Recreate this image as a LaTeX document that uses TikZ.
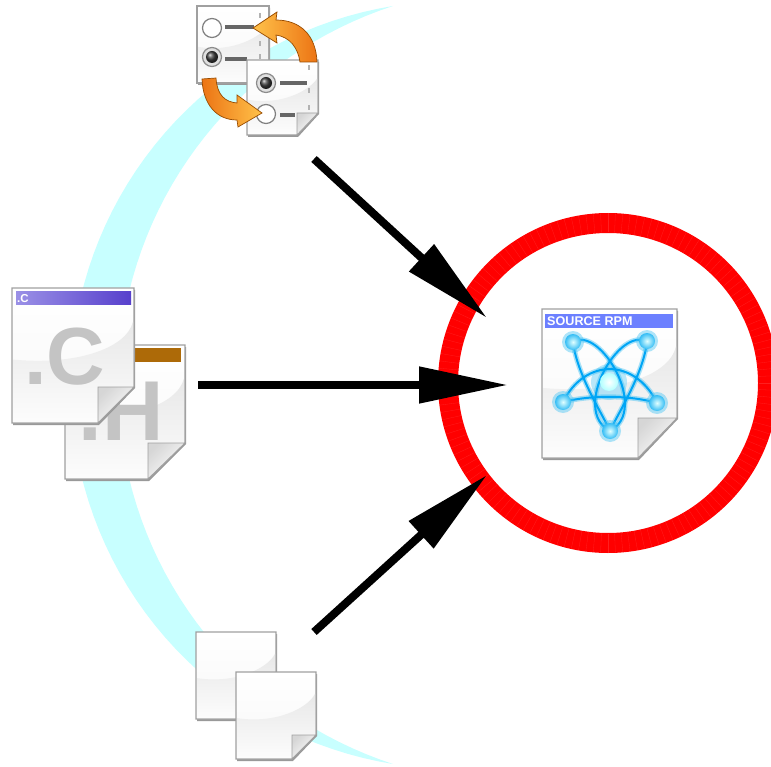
\documentclass[tikz,border=0pt]{standalone}
\usepackage{fontspec}
\setsansfont{Liberation Sans}
\usetikzlibrary{arrows.meta, positioning}
\definecolor{crescent}{HTML}{C8FFFF}
\definecolor{ringred}{HTML}{FF0000}
\definecolor{pageedge}{HTML}{A0A0A0}
\definecolor{cbarL}{HTML}{9A90E6}
\definecolor{cbarR}{HTML}{5740CC}
\definecolor{hbar}{HTML}{AD6A08}
\definecolor{rpmbar}{HTML}{6C80FF}
\definecolor{orbit}{HTML}{00A5F5}
\definecolor{ballrim}{HTML}{35BDF5}
\definecolor{bigletter}{HTML}{C4C4C4}
\definecolor{swapdark}{HTML}{EC7414}
\definecolor{swaplight}{HTML}{FFC24A}
\tikzset{
    pagebody/.style={draw=pageedge,line width=1.3pt,top color=white,bottom color=black!3},
    pagegloss/.style={top color=black!9,bottom color=black!1},
    pageshadow/.style={fill=black!40},
    pagefold/.style={draw=pageedge,line width=.9pt,left color=black!16,right color=white,
        shading angle=45},
    flowarrow/.style={line width=8pt,-{Triangle[length=89pt,width=35pt]}},
    swaparrow/.style={draw=orange!60!black,line width=.7pt},
    radiobar/.style={line width=4pt,draw=black!60},
    bigtext/.style={inner sep=0pt,anchor=base west,text=bigletter,font=\sffamily\bfseries},
    atomball/.style={inner color=cyan!12!white,outer color=ballrim},
    atomglow/.style={draw=cyan!75,line width=5pt,opacity=.45},
    atomline/.style={draw=orbit,line width=2pt},
}
\NewDocumentCommand{\docbody}{mmmmmm}{
    \pgfmathsetmacro{\xfold}{#3-#5}
    \pgfmathsetmacro{\yfold}{#4-#6}
    \pgfmathsetmacro{\yglossl}{#2+0.53*(#4-#2)}
    \pgfmathsetmacro{\yglossr}{#2+0.25*(#4-#2)}
    \pgfmathsetmacro{\xmid}{0.5*(#1+#3)}
    \fill[pageshadow] (#1+1,#2+2) -- (#3+1,#2+2) -- (#3+1,\yfold+1) -- (\xfold+1,#4+2) -- (#1+1,#4+2) -- cycle;
    \shade[pagebody] (#1,#2) -- (#3,#2) -- (#3,\yfold) -- (\xfold,#4) -- (#1,#4) -- cycle;
    \shade[pagegloss] (#1+1,\yglossl) .. controls (\xmid,\yglossl+6) and (#3-8,\yglossl-10) .. (#3-1,\yglossr)
        -- (#3-1,\yfold) -- (\xfold,#4-1) -- (#1+1,#4-1) -- cycle;
}
\NewDocumentCommand{\docfold}{mmmm}{
    \shade[pagefold] (#1-#3,#2) -- (#1-#3,#2-#4) -- (#1,#2-#4) -- cycle;
}
\NewDocumentCommand{\radiooff}{mm}{
    \draw[draw=black!50,fill=white,line width=1.2pt] (#1,#2) circle (9.5);
}
\NewDocumentCommand{\radioon}{mm}{
    \draw[draw=black!45,fill=black!12,line width=1.2pt] (#1,#2) circle (9.5);
    \shade[ball color=black!75] (#1,#2) circle (6);
}
\begin{document}
\begin{tikzpicture}[x=1pt,y=-1pt]
    \useasboundingbox (0,0) rectangle (771,767);
    \clip (0,0) rectangle (771,767);

    \fill[crescent] plot[domain=99.2:260.8,samples=70] ({454.5+384*cos(\x)},{385+384*sin(\x)})
        -- plot[domain=251.9:108.1,samples=70] ({516.7+398.7*cos(\x)},{385+398.7*sin(\x)}) -- cycle;

    % ring
    \draw[ringred,line width=20pt] (608,383) circle (160);
    \foreach \a in {0,2.5,...,357.5}
        \draw[red!88!white,line width=.3pt] (608,383) ++(\a:150.5) -- ++(\a:19);

    % swap icon
    \docbody{197}{6}{269}{83}{0}{0}
    \foreach \yy in {13,41,54}
        \fill[black!30] (259,\yy) rectangle ++(2,5);
    \radiooff{212}{28}
    \radioon{212}{57}
    \draw[radiobar] (225,27) -- (254,27);
    \draw[radiobar] (225,59) -- (247,59);
    \docbody{247}{60}{318}{135}{21}{22}
    \docfold{318}{135}{21}{22}
    \foreach \yy in {65,88,105}
        \fill[black!30] (308,\yy) rectangle ++(2,5);
    \radioon{266}{83}
    \radiooff{266}{114}
    \draw[radiobar] (280,83) -- (307,83);
    \draw[radiobar] (280,115) -- (295,115);
    \shade[swaparrow,left color=swaplight,right color=swapdark]
        (253,28) -- (277,12) -- (276,20) .. controls (300,20) and (316,35) .. (317,62)
        -- (300,62) .. controls (298,48) and (290,37) .. (276,35) -- (277,43) -- cycle;
    \shade[swaparrow,left color=swapdark,right color=swaplight]
        (262,113) -- (237,95) -- (237,103) .. controls (225,102) and (217,95) .. (216,78)
        -- (202,79) .. controls (203,105) and (217,120) .. (237,120) -- (238,127) -- cycle;

    % source files
    \docbody{65}{345}{185}{479}{37}{36}
    \fill[hbar] (69,348) rectangle (181,362);
    \node[bigtext,font=\fontsize{85}{85}\selectfont\sffamily\bfseries] (hletter) at (78.5,440) {.H};
    \docfold{185}{479}{37}{36}
    \docbody{12}{288}{134}{423}{36}{36}
    \shade[left color=cbarL,right color=cbarR] (16,292) rectangle (131,305);
    \node[inner sep=0pt,anchor=base west,text=white,font=\fontsize{11.5}{11.5}\selectfont\sffamily\bfseries]
        (cbartext) at (17,303) {.C};
    \node[bigtext,font=\fontsize{81}{81}\selectfont\sffamily\bfseries] (cletter) at (24,384) {.C};
    \docfold{134}{423}{36}{36}

    % patches
    \docbody{196}{632}{276}{719}{25}{25}
    \docfold{276}{719}{25}{25}
    \docbody{236}{672}{316}{759}{24}{24}
    \docfold{316}{759}{24}{24}

    % source rpm
    \docbody{542}{309}{677}{458}{39}{40}
    \fill[rpmbar] (545,314) rectangle (673,328);
    \node[inner sep=0pt,anchor=base west,text=white,font=\fontsize{12.6}{12.6}\selectfont\sffamily\bfseries]
        (rpmtext) at (547,326) {SOURCE RPM};
    \docfold{677}{458}{39}{40}
    \fill[cyan!45,opacity=.6] (609,382) circle (18);
    \foreach \style in {atomglow,atomline} {
        \draw[\style] (573,342) .. controls (600,325) and (650,410) .. (610,431)
            .. controls (603,415) and (577,375) .. (573,342);
        \draw[\style] (647,342) .. controls (620,325) and (570,410) .. (610,431)
            .. controls (617,415) and (643,375) .. (647,342);
        \draw[\style] (563,402) .. controls (585,358) and (635,358) .. (657,403)
            .. controls (630,395) and (590,395) .. (563,402);
    }
    \shade[inner color=white,middle color=white,outer color=cyan!30] (609,382) circle (9);
    \foreach \px/\py in {573/342,647/341,563/402,657/403,610/431} {
        \fill[cyan!70,opacity=.45] (\px,\py) circle (11);
        \shade[atomball] (\px,\py) circle (8);
    }

    \coordinate (swapstart) at (314,159);
    \coordinate (swaptip) at (487,318);
    \coordinate (sourcestart) at (198,385);
    \coordinate (sourcetip) at (508,385);
    \coordinate (patchstart) at (314,632);
    \coordinate (patchtip) at (487,475);
    \draw[flowarrow] (swapstart) -- (swaptip);
    \draw[flowarrow] (sourcestart) -- (sourcetip);
    \draw[flowarrow] (patchstart) -- (patchtip);
\end{tikzpicture}
\end{document}
